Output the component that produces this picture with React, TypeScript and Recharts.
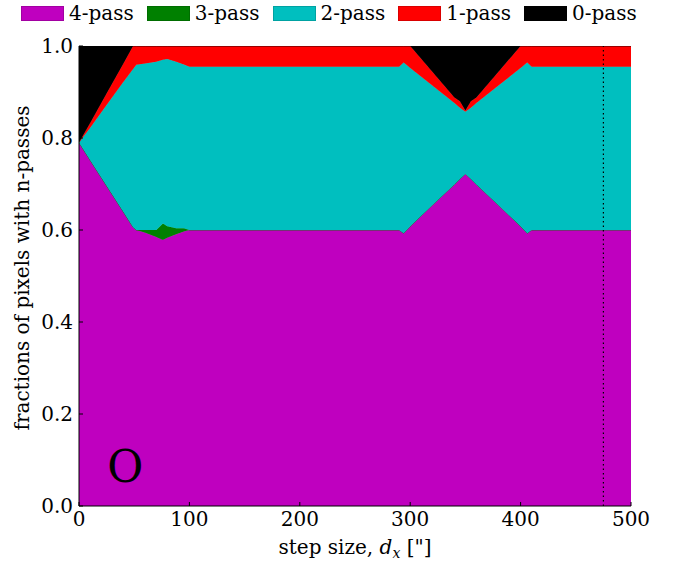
import React from "react";
import { AreaChart, Area, XAxis, YAxis, ReferenceLine, ReferenceDot } from "recharts";

const stepSizes = [0, 10, 25, 40, 49, 52, 60, 70, 76, 80, 88, 95, 100, 290, 294, 300, 320, 340, 345, 350, 355, 360, 380, 400, 406, 410, 500];
const pass4 = [0.79, 0.752, 0.696, 0.64, 0.606, 0.6, 0.594, 0.585, 0.578, 0.583, 0.591, 0.597, 0.6, 0.6, 0.593, 0.608, 0.654, 0.699, 0.711, 0.722, 0.711, 0.699, 0.654, 0.608, 0.593, 0.6, 0.6];
const pass3 = [0, 0, 0, 0, 0, 0, 0.006, 0.015, 0.036, 0.025, 0.013, 0.007, 0, 0, 0, 0, 0, 0, 0, 0, 0, 0, 0, 0, 0, 0, 0];
const pass2 = [0, 0.07, 0.176, 0.281, 0.344, 0.359, 0.362, 0.366, 0.356, 0.364, 0.362, 0.356, 0.355, 0.355, 0.371, 0.344, 0.26, 0.177, 0.155, 0.135, 0.155, 0.177, 0.26, 0.344, 0.371, 0.355, 0.355];
const pass1 = [0, 0.01, 0.025, 0.04, 0.05, 0.041, 0.038, 0.034, 0.03, 0.028, 0.034, 0.04, 0.045, 0.045, 0.036, 0.048, 0.03, 0.012, 0.014, 0.003, 0.014, 0.012, 0.03, 0.048, 0.036, 0.045, 0.045];
const pass0 = [0.21, 0.168, 0.103, 0.039, 0, 0, 0, 0, 0, 0, 0, 0, 0, 0, 0, 0, 0.056, 0.112, 0.12, 0.14, 0.12, 0.112, 0.056, 0, 0, 0, 0];

const xTicks = [0, 100, 200, 300, 400, 500];
const yTicks = [0, 0.2, 0.4, 0.6, 0.8, 1.0];
const seriesNames = ["4-pass", "3-pass", "2-pass", "1-pass", "0-pass"];
const seriesKeys = ["p4", "p3", "p2", "p1", "p0"];
const seriesColors = ["#bf00bf", "#008000", "#00bfbf", "#ff0000", "#000000"];
const markerX = 475;
const panelLabel = "O";

const data = stepSizes.map((x, i) => ({
  x,
  p4: pass4[i],
  p3: pass3[i],
  p2: pass2[i],
  p1: pass1[i],
  p0: pass0[i],
}));

const FONT = "DejaVu Serif, Liberation Serif, serif";

const XTick = (props: any) => {
  const { x, y, payload } = props;
  return (
    <g>
      <line x1={x} x2={x} y1={y - 6} y2={y - 10} stroke="#000" strokeWidth={1} />
      <text x={x} y={y} dy="0.71em" textAnchor="middle" style={{ fontFamily: FONT }} fontSize={20} fill="#000">
        {payload.value}
      </text>
    </g>
  );
};

const YTick = (props: any) => {
  const { x, y, payload } = props;
  return (
    <g>
      <line x1={x + 6} x2={x + 10} y1={y} y2={y} stroke="#000" strokeWidth={1} />
      <text x={x} y={y} dy="0.355em" textAnchor="end" style={{ fontFamily: FONT }} fontSize={20} fill="#000">
        {Number(payload.value).toFixed(1)}
      </text>
    </g>
  );
};

const TopTick = (props: any) => {
  const { x, y } = props;
  return <line x1={x} x2={x} y1={y} y2={y + 4} stroke="#000" strokeWidth={1} />;
};

const RightTick = (props: any) => {
  const { x, y } = props;
  return <line x1={x} x2={x - 4} y1={y} y2={y} stroke="#000" strokeWidth={1} />;
};

const XLabel = (props: any) => {
  const vb = props.viewBox || {};
  const cx = vb.x + vb.width / 2;
  return (
    <text x={cx} y={vb.y + 48} textAnchor="middle" style={{ fontFamily: FONT }} fontSize={20} fill="#000">
      <tspan>step size, </tspan>
      <tspan fontStyle="italic">d</tspan>
      <tspan fontStyle="italic" fontSize={14} dy={4}>x</tspan>
      <tspan dy={-4}> ["]</tspan>
    </text>
  );
};

const YLabel = (props: any) => {
  const vb = props.viewBox || {};
  const cy = vb.y + vb.height / 2 - 8;
  const cx = 22;
  return (
    <text x={cx} y={cy} transform={`rotate(-90 ${cx} ${cy})`} textAnchor="middle" dominantBaseline="central" style={{ fontFamily: FONT }} fontSize={20} fill="#000">
      fractions of pixels with n-passes
    </text>
  );
};

const Legend = () => (
  <div style={{ position: "absolute", left: 21, top: 0, display: "flex", alignItems: "center", fontFamily: FONT, fontSize: 20, height: 26, whiteSpace: "nowrap" }}>
    {seriesNames.map((n, i) => (
      <div key={n} style={{ display: "flex", alignItems: "center", marginRight: 13 }}>
        <div style={{ width: 43, height: 15, background: seriesColors[i], marginRight: 5, boxSizing: "border-box", border: "1px solid rgba(0,0,0,0.15)" }} />
        <span style={{ lineHeight: "26px" }}>{n}</span>
      </div>
    ))}
  </div>
);

export default function App() {
  return (
    <div style={{ position: "absolute", left: 0, top: 0, width: 680, height: 563, background: "#fff" }}>
      <AreaChart width={680} height={563} data={data} margin={{ top: 46, right: 49, left: 0, bottom: 0 }}>
        {seriesKeys.map((k, i) => (
          <Area
            key={k}
            type="linear"
            dataKey={k}
            stackId="1"
            stroke={seriesColors[i]}
            strokeWidth={0.8}
            fill={seriesColors[i]}
            fillOpacity={1}
            isAnimationActive={false}
            dot={false}
            activeDot={false}
          />
        ))}
        <ReferenceLine x={markerX} stroke="#000" strokeDasharray="1.5 3" strokeWidth={1.2} />
        <ReferenceDot x={42} y={0.087} r={0} fill="none" stroke="none" label={{ value: panelLabel, position: "center", fontSize: 44, style: { fontFamily: FONT }, fill: "#000" }} />
        <XAxis
          dataKey="x"
          type="number"
          domain={[0, 500]}
          ticks={xTicks}
          height={57}
          tickSize={0}
          tickMargin={6}
          tick={<XTick />}
          axisLine={{ stroke: "#000", strokeWidth: 1 }}
          tickLine={false}
          allowDataOverflow
          label={<XLabel />}
        />
        <XAxis
          xAxisId="top"
          orientation="top"
          dataKey="x"
          type="number"
          domain={[0, 500]}
          ticks={xTicks}
          height={0}
          tickSize={0}
          tickMargin={0}
          tick={<TopTick />}
          axisLine={{ stroke: "#000", strokeWidth: 1 }}
          tickLine={false}
        />
        <YAxis
          type="number"
          domain={[0, 1]}
          ticks={yTicks}
          width={79}
          tickSize={0}
          tickMargin={6}
          tick={<YTick />}
          axisLine={{ stroke: "#000", strokeWidth: 1 }}
          tickLine={false}
          allowDataOverflow
          label={<YLabel />}
        />
        <YAxis
          yAxisId="right"
          orientation="right"
          type="number"
          domain={[0, 1]}
          ticks={yTicks}
          width={0}
          tickSize={0}
          tickMargin={0}
          tick={<RightTick />}
          axisLine={{ stroke: "#000", strokeWidth: 1 }}
          tickLine={false}
        />
      </AreaChart>
      <Legend />
    </div>
  );
}
